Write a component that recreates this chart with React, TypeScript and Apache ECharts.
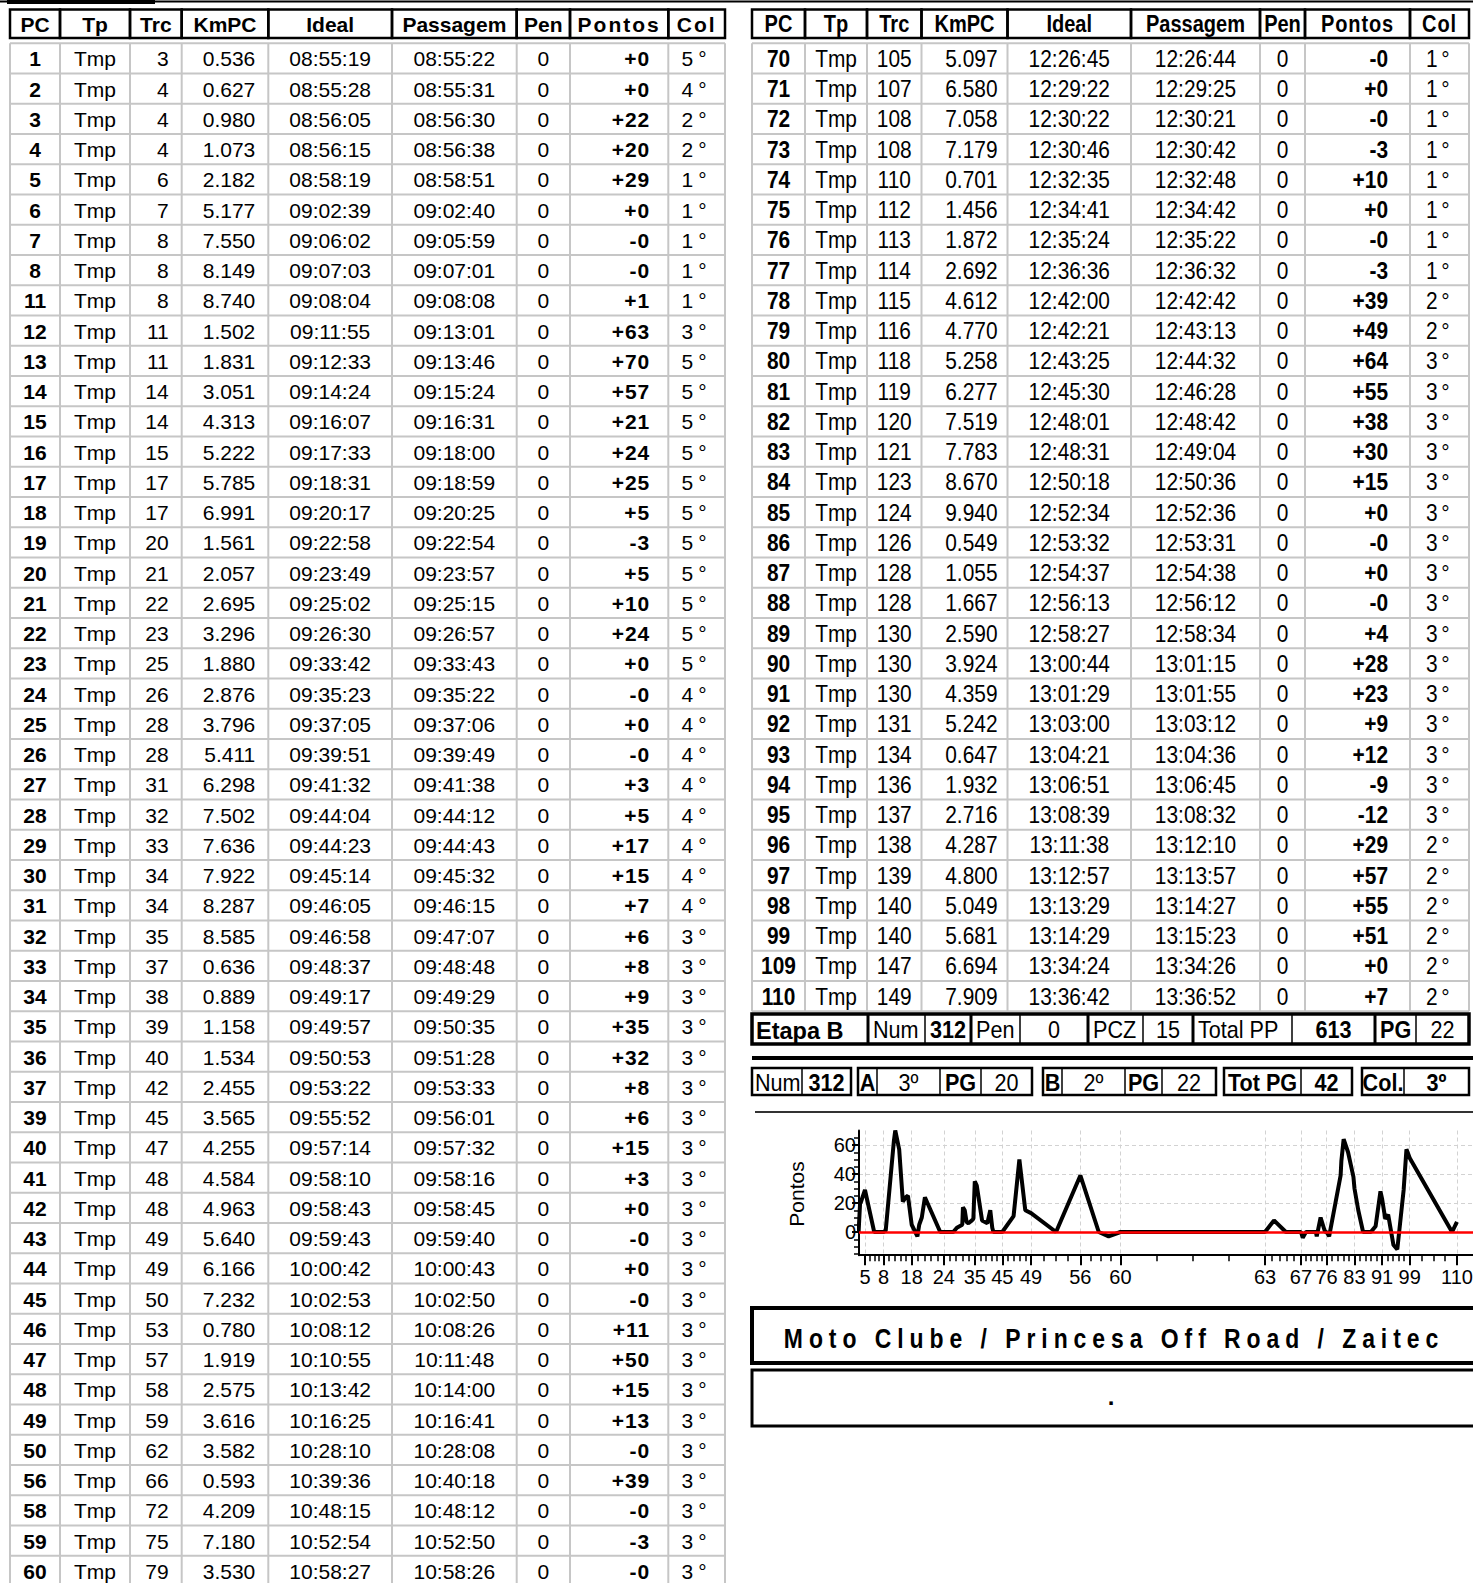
import React, { useEffect, useRef } from "react";
import * as echarts from "echarts";

// ---------------- DATA ----------------
const headers = ["PC", "Tp", "Trc", "KmPC", "Ideal", "Passagem", "Pen", "Pontos", "Col"];
const TYPE_LABEL = "Tmp";

const leftPC = [1, 2, 3, 4, 5, 6, 7, 8, 11, 12, 13, 14, 15, 16, 17, 18, 19, 20, 21, 22, 23, 24, 25, 26, 27, 28, 29, 30, 31, 32, 33, 34, 35, 36, 37, 39, 40, 41, 42, 43, 44, 45, 46, 47, 48, 49, 50, 56, 58, 59, 60];
const leftTrc = [3, 4, 4, 4, 6, 7, 8, 8, 8, 11, 11, 14, 14, 15, 17, 17, 20, 21, 22, 23, 25, 26, 28, 28, 31, 32, 33, 34, 34, 35, 37, 38, 39, 40, 42, 45, 47, 48, 48, 49, 49, 50, 53, 57, 58, 59, 62, 66, 72, 75, 79];
const leftKm = ["0.536", "0.627", "0.980", "1.073", "2.182", "5.177", "7.550", "8.149", "8.740", "1.502", "1.831", "3.051", "4.313", "5.222", "5.785", "6.991", "1.561", "2.057", "2.695", "3.296", "1.880", "2.876", "3.796", "5.411", "6.298", "7.502", "7.636", "7.922", "8.287", "8.585", "0.636", "0.889", "1.158", "1.534", "2.455", "3.565", "4.255", "4.584", "4.963", "5.640", "6.166", "7.232", "0.780", "1.919", "2.575", "3.616", "3.582", "0.593", "4.209", "7.180", "3.530"];
const leftIdeal = ["08:55:19", "08:55:28", "08:56:05", "08:56:15", "08:58:19", "09:02:39", "09:06:02", "09:07:03", "09:08:04", "09:11:55", "09:12:33", "09:14:24", "09:16:07", "09:17:33", "09:18:31", "09:20:17", "09:22:58", "09:23:49", "09:25:02", "09:26:30", "09:33:42", "09:35:23", "09:37:05", "09:39:51", "09:41:32", "09:44:04", "09:44:23", "09:45:14", "09:46:05", "09:46:58", "09:48:37", "09:49:17", "09:49:57", "09:50:53", "09:53:22", "09:55:52", "09:57:14", "09:58:10", "09:58:43", "09:59:43", "10:00:42", "10:02:53", "10:08:12", "10:10:55", "10:13:42", "10:16:25", "10:28:10", "10:39:36", "10:48:15", "10:52:54", "10:58:27"];
const leftPass = ["08:55:22", "08:55:31", "08:56:30", "08:56:38", "08:58:51", "09:02:40", "09:05:59", "09:07:01", "09:08:08", "09:13:01", "09:13:46", "09:15:24", "09:16:31", "09:18:00", "09:18:59", "09:20:25", "09:22:54", "09:23:57", "09:25:15", "09:26:57", "09:33:43", "09:35:22", "09:37:06", "09:39:49", "09:41:38", "09:44:12", "09:44:43", "09:45:32", "09:46:15", "09:47:07", "09:48:48", "09:49:29", "09:50:35", "09:51:28", "09:53:33", "09:56:01", "09:57:32", "09:58:16", "09:58:45", "09:59:40", "10:00:43", "10:02:50", "10:08:26", "10:11:48", "10:14:00", "10:16:41", "10:28:08", "10:40:18", "10:48:12", "10:52:50", "10:58:26"];
const leftPen = [0, 0, 0, 0, 0, 0, 0, 0, 0, 0, 0, 0, 0, 0, 0, 0, 0, 0, 0, 0, 0, 0, 0, 0, 0, 0, 0, 0, 0, 0, 0, 0, 0, 0, 0, 0, 0, 0, 0, 0, 0, 0, 0, 0, 0, 0, 0, 0, 0, 0, 0];
const leftPontos = ["+0", "+0", "+22", "+20", "+29", "+0", "-0", "-0", "+1", "+63", "+70", "+57", "+21", "+24", "+25", "+5", "-3", "+5", "+10", "+24", "+0", "-0", "+0", "-0", "+3", "+5", "+17", "+15", "+7", "+6", "+8", "+9", "+35", "+32", "+8", "+6", "+15", "+3", "+0", "-0", "+0", "-0", "+11", "+50", "+15", "+13", "-0", "+39", "-0", "-3", "-0"];
const leftCol = [5, 4, 2, 2, 1, 1, 1, 1, 1, 3, 5, 5, 5, 5, 5, 5, 5, 5, 5, 5, 5, 4, 4, 4, 4, 4, 4, 4, 4, 3, 3, 3, 3, 3, 3, 3, 3, 3, 3, 3, 3, 3, 3, 3, 3, 3, 3, 3, 3, 3, 3];

const rightPC = [70, 71, 72, 73, 74, 75, 76, 77, 78, 79, 80, 81, 82, 83, 84, 85, 86, 87, 88, 89, 90, 91, 92, 93, 94, 95, 96, 97, 98, 99, 109, 110];
const rightTrc = [105, 107, 108, 108, 110, 112, 113, 114, 115, 116, 118, 119, 120, 121, 123, 124, 126, 128, 128, 130, 130, 130, 131, 134, 136, 137, 138, 139, 140, 140, 147, 149];
const rightKm = ["5.097", "6.580", "7.058", "7.179", "0.701", "1.456", "1.872", "2.692", "4.612", "4.770", "5.258", "6.277", "7.519", "7.783", "8.670", "9.940", "0.549", "1.055", "1.667", "2.590", "3.924", "4.359", "5.242", "0.647", "1.932", "2.716", "4.287", "4.800", "5.049", "5.681", "6.694", "7.909"];
const rightIdeal = ["12:26:45", "12:29:22", "12:30:22", "12:30:46", "12:32:35", "12:34:41", "12:35:24", "12:36:36", "12:42:00", "12:42:21", "12:43:25", "12:45:30", "12:48:01", "12:48:31", "12:50:18", "12:52:34", "12:53:32", "12:54:37", "12:56:13", "12:58:27", "13:00:44", "13:01:29", "13:03:00", "13:04:21", "13:06:51", "13:08:39", "13:11:38", "13:12:57", "13:13:29", "13:14:29", "13:34:24", "13:36:42"];
const rightPass = ["12:26:44", "12:29:25", "12:30:21", "12:30:42", "12:32:48", "12:34:42", "12:35:22", "12:36:32", "12:42:42", "12:43:13", "12:44:32", "12:46:28", "12:48:42", "12:49:04", "12:50:36", "12:52:36", "12:53:31", "12:54:38", "12:56:12", "12:58:34", "13:01:15", "13:01:55", "13:03:12", "13:04:36", "13:06:45", "13:08:32", "13:12:10", "13:13:57", "13:14:27", "13:15:23", "13:34:26", "13:36:52"];
const rightPen = [0, 0, 0, 0, 0, 0, 0, 0, 0, 0, 0, 0, 0, 0, 0, 0, 0, 0, 0, 0, 0, 0, 0, 0, 0, 0, 0, 0, 0, 0, 0, 0];
const rightPontos = ["-0", "+0", "-0", "-3", "+10", "+0", "-0", "-3", "+39", "+49", "+64", "+55", "+38", "+30", "+15", "+0", "-0", "+0", "-0", "+4", "+28", "+23", "+9", "+12", "-9", "-12", "+29", "+57", "+55", "+51", "+0", "+7"];
const rightCol = [1, 1, 1, 1, 1, 1, 1, 1, 2, 2, 3, 3, 3, 3, 3, 3, 3, 3, 3, 3, 3, 3, 3, 3, 3, 3, 2, 2, 2, 2, 2, 2];

// PCs plotted in the chart whose table rows are below the page edge
const chartExtraPC = [61, 62, 63, 64, 65, 66, 67, 68, 69];
const chartExtraIdeal = ["11:16:35", "11:33:30", "12:06:26", "12:10:40", "12:16:15", "12:19:30", "12:23:21", "12:24:10", "12:25:40"];
const chartExtraPontos = [0, 0, 0, 8, 0, 0, 0, -4, 0];

// x-axis labelled PCs, and the number of minor ticks in each gap between them
const xLabelPCs = [5, 8, 18, 24, 35, 45, 49, 56, 60, 63, 67, 76, 83, 91, 99, 110];
const xMinorPerGap = [3, 4, 4, 4, 4, 4, 3, 3, 3, 4, 4, 4, 4, 4, 3];
const yMajorTicks = [0, 20, 40, 60];
const yMinorTicks = [-15, -10, -5, 0, 5, 10, 15, 20, 25, 30, 35, 40, 45, 50, 55, 60, 65];
const yAxisTitle = "Pontos";

// summary
const stageLabels = ["Etapa B", "Num", "312", "Pen", "0", "PCZ", "15", "Total PP", "613", "PG", "22"];
const totalsGroups = [
  ["Num", "312"],
  ["A", "3º", "PG", "20"],
  ["B", "2º", "PG", "22"],
  ["Tot PG", "42"],
  ["Col.", "3º"],
];
const clubTitle = "Moto Clube / Princesa Off Road / Zaitec";
const footerText = ".";

// ---------------- LAYOUT ----------------
const W = 1473;
const H = 1583;
const GRAY = "#c6c6c6";
const L_COLS = [10, 60, 130, 181.7, 268.3, 392, 516.7, 570, 668.3, 725];
const R_COLS = [752, 805, 867, 921.5, 1007.5, 1131, 1260, 1305, 1410, 1469];
const HEAD_Y0 = 9.5;
const HEAD_Y1 = 38;
const BODY_Y0 = 43.3;
const ROW_H = 30.25;

const X_MIN = 32130;
const X_MAX = 51000;
const PX_PER_S = 0.03544;
const GRID_LEFT = 859;
const GRID_TOP = 1130.5;
const GRID_H = 124.7;
const Y_MIN = -16;
const Y_MAX = 70;

function toSec(s: string) {
  const [h, m, x] = s.split(":").map(Number);
  return h * 3600 + m * 60 + x;
}

function fnt(size: number, bold: boolean, lsp = 0) {
  return `${bold ? "bold" : "normal"} ${size}px "Liberation Sans", ${lsp ? `lsp${lsp}, ` : ""}Arial, sans-serif`;
}

type TOpt = { size: number; bold?: boolean; align?: string; sx?: number; lsp?: number; rot?: number };
function T(text: string | number, x: number, y: number, o: TOpt) {
  const align = o.align || "center";
  return {
    type: "text",
    x,
    y,
    scaleX: o.sx || 1,
    rotation: o.rot || 0,
    silent: true,
    z: 10,
    style: {
      text: String(text),
      fill: "#000",
      font: fnt(o.size, !!o.bold, o.lsp || 0),
      textAlign: align,
      textVerticalAlign: "middle",
      align,
      verticalAlign: "middle",
    },
  };
}
function Ln(x1: number, y1: number, x2: number, y2: number, color: string, w: number) {
  return { type: "line", silent: true, z: 5, shape: { x1, y1, x2, y2 }, style: { stroke: color, lineWidth: w } };
}
function Rc(x: number, y: number, w: number, h: number, stroke: string, lw: number, fill = "none") {
  return { type: "rect", silent: true, z: 6, shape: { x, y, width: w, height: h }, style: { stroke, lineWidth: lw, fill } };
}

type Spec = { a: string; pad?: number; b?: boolean; lsp?: number };

function buildTable(cols: number[], rows: (string | number)[][], specs: Spec[], sx: number, size: number, hsize: number, hdrLsp: number[]) {
  const out: any[] = [];
  const n = rows.length;
  const yBottom = BODY_Y0 + n * ROW_H;
  cols.forEach((c) => out.push(Ln(c, BODY_Y0, c, yBottom, GRAY, 2)));
  for (let k = 0; k <= n; k++) {
    const y = BODY_Y0 + k * ROW_H;
    out.push(Ln(cols[0], y, cols[cols.length - 1], y, GRAY, 2));
  }
  headers.forEach((h, i) => {
    out.push(Rc(cols[i], HEAD_Y0, cols[i + 1] - cols[i], HEAD_Y1 - HEAD_Y0, "#000", 2.5));
    out.push(T(h, (cols[i] + cols[i + 1]) / 2, (HEAD_Y0 + HEAD_Y1) / 2 + 0.5, { size: hsize, bold: true, sx, lsp: hdrLsp[i] }));
  });
  rows.forEach((row, r) => {
    const y = BODY_Y0 + ROW_H * (r + 0.5) + 0.5;
    row.forEach((v, i) => {
      const s = specs[i];
      const x = s.a === "center" ? (cols[i] + cols[i + 1]) / 2 : s.a === "right" ? cols[i + 1] - (s.pad || 0) : cols[i] + (s.pad || 0);
      out.push(T(v, x, y, { size, bold: s.b, align: s.a, sx, lsp: s.lsp }));
    });
  });
  return out;
}

function buildElements() {
  const els: any[] = [];
  // remnants of the block above, cut at the page top
  els.push(Ln(0, 1.5, W, 1.5, "#000", 2));
  els.push(Rc(7, 0, 148, 4, "#000", 0, "#000"));

  const leftRows = leftPC.map((pc, i) => [pc, TYPE_LABEL, leftTrc[i], leftKm[i], leftIdeal[i], leftPass[i], leftPen[i], leftPontos[i], `${leftCol[i]}°`]);
  const rightRows = rightPC.map((pc, i) => [pc, TYPE_LABEL, rightTrc[i], rightKm[i], rightIdeal[i], rightPass[i], rightPen[i], rightPontos[i], `${rightCol[i]}°`]);

  const leftSpecs: Spec[] = [
    { a: "center", b: true }, { a: "center" }, { a: "right", pad: 13 }, { a: "right", pad: 13 },
    { a: "center" }, { a: "center" }, { a: "center" }, { a: "right", pad: 18, b: true, lsp: 1 }, { a: "center", lsp: 5 },
  ];
  const rightSpecs: Spec[] = [
    { a: "center", b: true }, { a: "center" }, { a: "center" }, { a: "right", pad: 10 },
    { a: "center" }, { a: "center" }, { a: "center" }, { a: "right", pad: 22, b: true }, { a: "center", lsp: 4 },
  ];
  els.push(...buildTable(L_COLS, leftRows, leftSpecs, 1, 21, 21, [0, 0, 0, 0, 0, 0, 0, 2, 2]));
  els.push(...buildTable(R_COLS, rightRows, rightSpecs, 0.87, 24, 23, [0, 0, 0, 0, 0, 0, 0, 1, 1]));

  // Etapa B summary row
  const SX = 0.9;
  const sb = [752, 868, 925, 971, 1020, 1088, 1143, 1193, 1292, 1375, 1416, 1469];
  const sBold = [true, false, true, false, false, false, false, false, true, true, false];
  const sAlign = ["left", "left", "center", "left", "center", "left", "center", "left", "center", "left", "center"];
  const sThick = [false, true, false, true, false, true, false, true, false, true, false, false];
  const sy0 = 1014;
  const sy1 = 1044;
  els.push(Rc(sb[0], sy0, sb[sb.length - 1] - sb[0], sy1 - sy0, "#000", 3.5));
  for (let i = 1; i < sb.length - 1; i++) els.push(Ln(sb[i], sy0, sb[i], sy1, "#000", sThick[i] ? 3 : 1.5));
  stageLabels.forEach((t, i) => {
    const x = sAlign[i] === "left" ? sb[i] + (i === 0 ? 4 : 5) : (sb[i] + sb[i + 1]) / 2;
    els.push(T(t, x, (sy0 + sy1) / 2 + 1, { size: 24, bold: sBold[i], align: sAlign[i], sx: i === 0 ? 0.98 : SX }));
  });

  els.push(Ln(752, 1058, W + 20, 1058, "#000", 4));

  // totals boxes
  const gBounds = [
    [752, 802, 851],
    [858, 877, 940, 981, 1032],
    [1043, 1062, 1125, 1162, 1216],
    [1224, 1301, 1352],
    [1362, 1404, 1469],
  ];
  const gBold = [[false, true], [true, false, true, false], [true, false, true, false], [true, true], [true, true]];
  const ty0 = 1068;
  const ty1 = 1095;
  totalsGroups.forEach((g, gi) => {
    const b = gBounds[gi];
    els.push(Rc(b[0], ty0, b[b.length - 1] - b[0], ty1 - ty0, "#000", 2.5));
    for (let i = 1; i < b.length - 1; i++) els.push(Ln(b[i], ty0, b[i], ty1, "#000", 1.5));
    g.forEach((t, i) => {
      const left = gi === 0 && i === 0;
      const x = left ? b[i] + 3 : (b[i] + b[i + 1]) / 2;
      els.push(T(t, x, (ty0 + ty1) / 2 + 1, { size: 24, bold: gBold[gi][i], align: left ? "left" : "center", sx: SX }));
    });
  });

  els.push(Ln(755, 1112, W + 20, 1112, "#333", 2));

  // y-axis title of the chart
  els.push(T(yAxisTitle, 796, 1194, { size: 21, rot: Math.PI / 2 }));

  // club boxes
  els.push(Rc(752, 1308, 800, 55, "#000", 4));
  els.push(T(clubTitle, 1114, 1338, { size: 27, bold: true, sx: 0.85, lsp: 7 }));
  els.push(Rc(752, 1370, 800, 56, "#000", 3));
  els.push(T(footerText, 1111, 1396, { size: 24, bold: true }));
  return els;
}

function buildOption() {
  const chartPC = [...leftPC, ...chartExtraPC, ...rightPC];
  const chartTimes = [...leftIdeal, ...chartExtraIdeal, ...rightIdeal].map(toSec);
  const chartVals = [...leftPontos.map(Number), ...chartExtraPontos, ...rightPontos.map(Number)];
  const data = chartTimes.map((t, i) => [t, chartVals[i]]);

  const labelMap = new Map<number, string>();
  const labelTimes: number[] = [];
  xLabelPCs.forEach((pc) => {
    const i = chartPC.indexOf(pc);
    if (i >= 0) {
      labelTimes.push(chartTimes[i]);
      labelMap.set(chartTimes[i], String(pc));
    }
  });
  // minor ticks split each labelled gap evenly
  const minorTimes: number[] = [];
  for (let g = 0; g < labelTimes.length - 1; g++) {
    const a = labelTimes[g];
    const b = labelTimes[g + 1];
    const k = xMinorPerGap[g] + 1;
    for (let j = 1; j < k; j++) minorTimes.push(Math.round(a + ((b - a) * j) / k));
  }

  const gridW = (X_MAX - X_MIN) * PX_PER_S;
  const labelFont = { color: "#000", fontSize: 20, fontFamily: "Liberation Sans" };
  const split = { show: true, lineStyle: { color: "#d2d2d2", type: [4, 3], width: 1 } };

  return {
    animation: false,
    backgroundColor: "#ffffff",
    grid: { left: GRID_LEFT, top: GRID_TOP, width: gridW, height: GRID_H, containLabel: false, outerBoundsMode: "none" },
    xAxis: [
      {
        type: "value", min: X_MIN, max: X_MAX, position: "bottom",
        axisLine: { show: true, onZero: false, lineStyle: { color: "#000", width: 2 } },
        axisTick: { show: true, customValues: minorTimes, length: 6, lineStyle: { color: "#000", width: 1.5 } },
        axisLabel: { show: false },
        splitLine: { show: false },
      },
      {
        type: "value", min: X_MIN, max: X_MAX, position: "bottom",
        axisLine: { show: false, onZero: false },
        axisTick: { show: true, customValues: labelTimes, length: 10, lineStyle: { color: "#000", width: 2 } },
        axisLabel: { show: true, customValues: labelTimes, margin: 12, formatter: (v: number) => labelMap.get(v) ?? "", ...labelFont },
        splitLine: split,
      },
    ],
    yAxis: [
      {
        type: "value", min: Y_MIN, max: Y_MAX, position: "left",
        axisLine: { show: true, onZero: false, lineStyle: { color: "#000", width: 2 } },
        axisTick: { show: true, customValues: yMinorTicks, length: 5, lineStyle: { color: "#000", width: 1.5 } },
        axisLabel: { show: false },
        splitLine: { show: false },
      },
      {
        type: "value", min: Y_MIN, max: Y_MAX, position: "left",
        axisLine: { show: false, onZero: false },
        axisTick: { show: true, customValues: yMajorTicks, length: 7, lineStyle: { color: "#000", width: 2 } },
        axisLabel: { show: true, customValues: yMajorTicks, margin: 3, ...labelFont },
        splitLine: split,
      },
    ],
    series: [
      {
        type: "line",
        xAxisIndex: 0,
        yAxisIndex: 0,
        data,
        symbol: "none",
        showSymbol: false,
        clip: true,
        silent: true,
        z: 3,
        lineStyle: { color: "#000", width: 4 },
        itemStyle: { color: "#000" },
        markLine: {
          silent: true,
          symbol: ["none", "none"],
          label: { show: false },
          lineStyle: { color: "#ff0000", width: 2.5, type: "solid" },
          data: [{ yAxis: 0 }],
        },
      },
    ],
    graphic: { elements: buildElements() },
  };
}

export default function App() {
  const ref = useRef<HTMLDivElement>(null);
  useEffect(() => {
    const el = ref.current;
    if (!el) return;
    const chart = echarts.init(el, null, { renderer: "svg", width: W, height: H });
    chart.setOption(buildOption() as any);
    const applySpacing = () => {
      el.querySelectorAll("text").forEach((t) => {
        const src = (t.getAttribute("style") || "") + " " + (t.getAttribute("font-family") || "");
        const m = /lsp(\d+)/.exec(src);
        if (m) t.setAttribute("letter-spacing", m[1]);
      });
    };
    applySpacing();
    chart.on("finished", applySpacing);
    const raf = requestAnimationFrame(applySpacing);
    const to = setTimeout(applySpacing, 60);
    return () => {
      cancelAnimationFrame(raf);
      clearTimeout(to);
      chart.dispose();
    };
  }, []);
  return (
    <div
      ref={ref}
      style={{ position: "absolute", left: 0, top: 0, width: W, height: H, background: "#fff", overflow: "hidden" }}
    />
  );
}
